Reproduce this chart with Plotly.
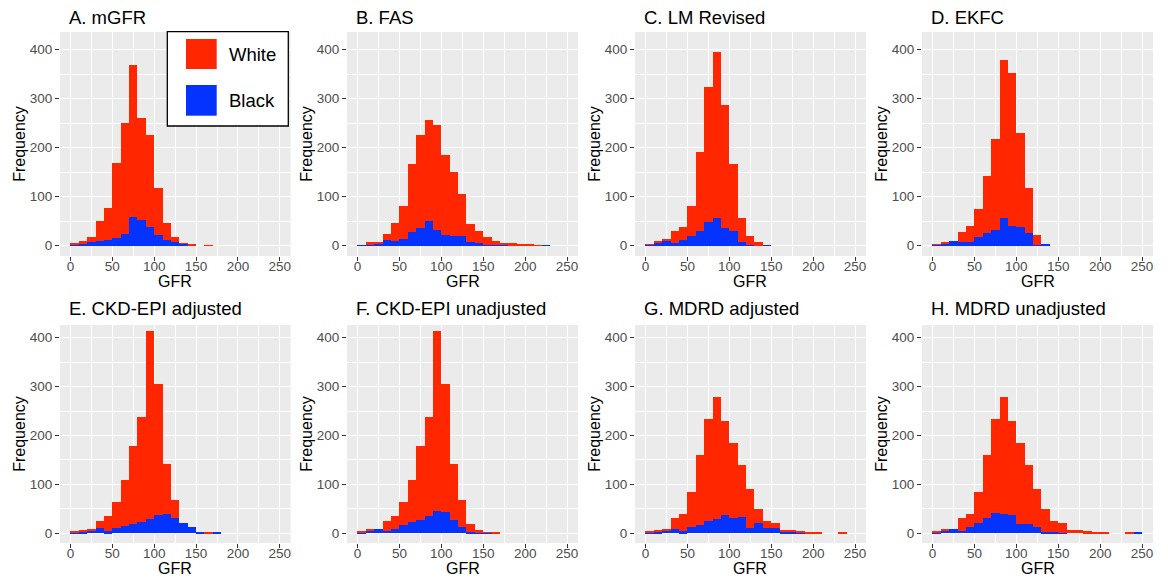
import plotly.graph_objects as go

# ---------------- data ----------------
bin_width = 10
bin_starts = list(range(0, 250, 10))          # 25 bins: 0-10 ... 240-250
bin_centers = [b + bin_width / 2 for b in bin_starts]

panel_titles = ["A. mGFR", "B. FAS", "C. LM Revised", "D. EKFC",
                "E. CKD-EPI adjusted", "F. CKD-EPI unadjusted",
                "G. MDRD adjusted", "H. MDRD unadjusted"]

def pad(v):
    return v + [0] * (25 - len(v))

# counts per 10-unit GFR bin (stacked: Black at bottom, White above)
white_A = pad([2, 5, 10, 41, 64, 154, 226, 310, 208, 188, 96, 35, 10, 1, 1, 0, 1])
black_A = pad([2, 4, 7, 9, 12, 15, 24, 58, 53, 38, 21, 12, 7, 4, 1])

white_B = pad([0, 5, 2, 13, 37, 68, 140, 188, 205, 214, 164, 131, 86, 36, 24, 16, 9, 5, 5, 3, 2, 1, 0])
black_B = pad([1, 2, 4, 11, 10, 14, 27, 37, 51, 33, 22, 19, 20, 8, 5, 2, 1, 1, 0, 0, 0, 0, 1])

white_C = pad([1, 2, 2, 24, 28, 61, 162, 275, 339, 252, 137, 48, 17, 7, 0])
black_C = pad([2, 6, 10, 5, 11, 20, 30, 49, 56, 36, 30, 8, 2, 0, 1])

white_D = pad([1, 4, 0, 20, 33, 57, 118, 185, 322, 311, 191, 92, 20, 0])
black_D = pad([2, 4, 9, 7, 7, 17, 25, 33, 56, 41, 38, 25, 1, 2])

white_E = pad([2, 4, 3, 16, 31, 52, 94, 159, 215, 383, 267, 101, 36, 0, 0, 0, 1, 0])
black_E = pad([2, 3, 5, 10, 4, 11, 14, 19, 23, 30, 38, 40, 32, 21, 12, 2, 0, 1])

white_F = pad([2, 2, 0, 21, 27, 46, 86, 150, 202, 367, 262, 114, 55, 16, 6, 1, 1])
black_F = pad([2, 5, 9, 5, 8, 17, 22, 28, 36, 46, 43, 27, 13, 2, 1, 1, 0])

white_G = pad([2, 5, 4, 22, 36, 72, 145, 210, 249, 192, 152, 106, 80, 30, 16, 10, 5, 3, 2, 3, 2, 0, 0, 1, 0])
black_G = pad([2, 2, 5, 9, 4, 13, 16, 24, 30, 37, 32, 33, 10, 20, 10, 10, 2, 3, 2, 0, 0, 0, 0, 0, 0])

white_H = pad([2, 2, 0, 26, 28, 65, 129, 192, 239, 191, 165, 121, 77, 48, 24, 19, 7, 6, 4, 3, 2, 0, 0, 1, 0])
black_H = pad([2, 5, 9, 5, 12, 20, 32, 42, 40, 38, 19, 18, 13, 2, 2, 1, 0, 0, 0, 0, 0, 0, 0, 0, 1])

white_counts = [white_A, white_B, white_C, white_D, white_E, white_F, white_G, white_H]
black_counts = [black_A, black_B, black_C, black_D, black_E, black_F, black_G, black_H]

x_ticks = [0, 50, 100, 150, 200, 250]
y_ticks = [0, 100, 200, 300, 400]
groups = ["White", "Black"]
x_title = "GFR"
y_title = "Frequency"

# ---------------- styling ----------------
W, H = 1168, 582
RED = "#FF2600"
BLUE = "#0433FF"
PANEL_BG = "#EBEBEB"
FONT = "Liberation Sans, Arial, Helvetica, sans-serif"

def px_x(v):
    return v / W

def px_y(v):
    return 1 - v / H

col_px = [(60, 290.7), (347, 578), (635, 866), (922, 1153)]
row_px = [(32, 256), (325, 543)]
y_ranges = [[-21, 436], [-20, 426]]
title_cy = [17, 308]
xtitle_cy = [281, 568]

fig = go.Figure()
annotations = []

for i in range(8):
    r, c = divmod(i, 4)
    n = i + 1
    xa = "x" if n == 1 else f"x{n}"
    ya = "y" if n == 1 else f"y{n}"
    fig.add_trace(go.Bar(x=bin_centers, y=black_counts[i], width=bin_width,
                         marker=dict(color=BLUE, line=dict(width=0)),
                         name="Black", showlegend=False, xaxis=xa, yaxis=ya))
    fig.add_trace(go.Bar(x=bin_centers, y=white_counts[i], width=bin_width,
                         marker=dict(color=RED, line=dict(width=0)),
                         name="White", showlegend=False, xaxis=xa, yaxis=ya))

    x0, x1 = col_px[c]
    y0, y1 = row_px[r]
    xdom = [px_x(x0), px_x(x1)]
    ydom = [px_y(y1), px_y(y0)]
    axis_common = dict(
        showgrid=True, gridcolor="white", gridwidth=1.2, zeroline=False,
        ticks="outside", ticklen=4, tickwidth=1, tickcolor="#333333",
        tickfont=dict(family=FONT, size=13.5, color="#4D4D4D"),
        showline=False, automargin=False, fixedrange=True,
    )
    fig.update_layout(**{
        ("xaxis" if n == 1 else f"xaxis{n}"): dict(
            axis_common, domain=xdom, anchor=ya, range=[-12.5, 263],
            tickvals=x_ticks, ticklabelstandoff=-6,
            minor=dict(tickvals=[25, 75, 125, 175, 225], showgrid=True,
                       gridcolor="white", gridwidth=0.6, ticklen=0)),
        ("yaxis" if n == 1 else f"yaxis{n}"): dict(
            axis_common, domain=ydom, anchor=xa, range=y_ranges[r],
            tickvals=y_ticks,
            minor=dict(tickvals=[50, 150, 250, 350], showgrid=True,
                       gridcolor="white", gridwidth=0.6, ticklen=0),
            title=dict(text=y_title, font=dict(family=FONT, size=16, color="black"),
                       standoff=0)),
    })
    annotations.append(dict(
        text=panel_titles[i], xref="paper", yref="paper",
        x=px_x(x0 + 7), y=px_y(title_cy[r]), xanchor="left", yanchor="middle",
        showarrow=False, font=dict(family=FONT, size=18.5, color="black")))
    annotations.append(dict(
        text=x_title, xref="paper", yref="paper",
        x=px_x((x0 + x1) / 2), y=px_y(xtitle_cy[r]), xanchor="center", yanchor="middle",
        showarrow=False, font=dict(family=FONT, size=16, color="black")))

# legend drawn inside panel A (large ggplot-style keys)
shapes = [
    dict(type="rect", xref="paper", yref="paper",
         x0=px_x(167.3), x1=px_x(288.3), y0=px_y(126), y1=px_y(31.7),
         line=dict(color="black", width=1.3), fillcolor="white", layer="above"),
    dict(type="rect", xref="paper", yref="paper",
         x0=px_x(186), x1=px_x(216.7), y0=px_y(69), y1=px_y(39),
         line=dict(width=0), fillcolor=RED, layer="above"),
    dict(type="rect", xref="paper", yref="paper",
         x0=px_x(186), x1=px_x(216.7), y0=px_y(115.7), y1=px_y(85),
         line=dict(width=0), fillcolor=BLUE, layer="above"),
]
for label, cy in zip(groups, [54, 100]):
    annotations.append(dict(
        text=label, xref="paper", yref="paper", x=px_x(227), y=px_y(cy),
        xanchor="left", yanchor="middle", showarrow=False,
        font=dict(family=FONT, size=18.5, color="black")))

fig.update_layout(
    width=W, height=H, margin=dict(l=0, r=0, t=0, b=0),
    paper_bgcolor="white", plot_bgcolor=PANEL_BG,
    barmode="stack", bargap=0,
    annotations=annotations, shapes=shapes,
    font=dict(family=FONT),
)

# remove the browser's default page margin so the figure fills the window exactly
fig.write_html("out.html",
               config={"displayModeBar": False},
               post_script="document.body.style.margin='0';"
                           "document.body.style.overflow='hidden';")
